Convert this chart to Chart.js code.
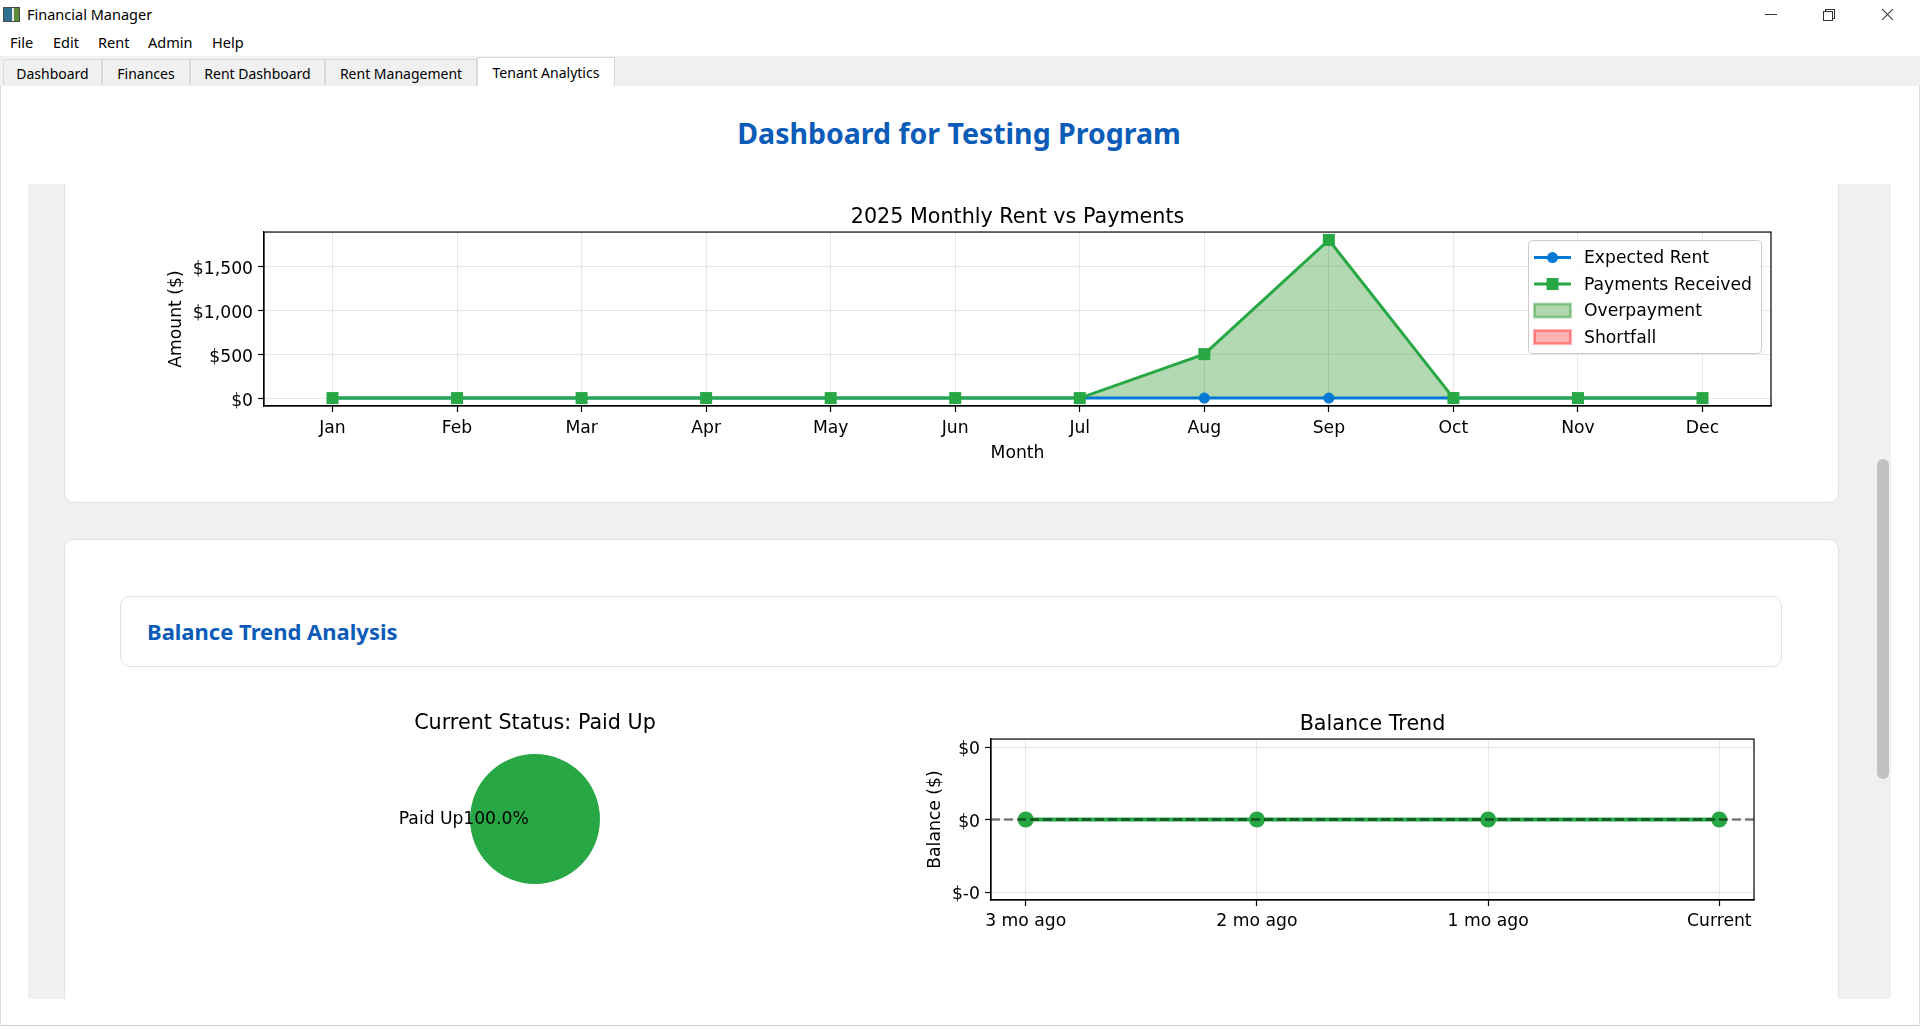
<!DOCTYPE html>
<html>
<head>
<meta charset="utf-8">
<title>Financial Manager</title>
<script src="https://cdn.jsdelivr.net/npm/chart.js@4.4.1/dist/chart.umd.min.js"></script>
<style>
html, body { margin: 0; padding: 0; }
body {
    width: 1920px; height: 1030px; position: relative; overflow: hidden;
    background: #fff; font-family: "Noto Sans", sans-serif; color: #000;
}
.abs { position: absolute; }
#appicon { left: 3px; top: 7px; width: 15px; height: 13px; border: 1px solid #4a4a4a;
    background: linear-gradient(90deg, #2f6f8f 0 55%, #e8e8e8 55% 70%, #5a8a3a 70%); }
#appname { left: 27px; top: 4px; font-size: 14.5px; }
#menubar span { position: absolute; top: 32px; font-size: 14.5px; }
#tabbar { left: 0; top: 56px; width: 1920px; height: 30px; background: #f0f0f0; }
.tab { position: absolute; top: 3px; height: 26px; box-sizing: border-box; border: 1px solid #d9d9d9;
    border-bottom: none; background: #f0f0f0; font-size: 14px; text-align: center; line-height: 28px; }
.tab.sel { top: 1px; height: 30px; background: #fff; line-height: 30px; }
#panel { left: 0; top: 86px; width: 1918px; height: 939px; border-left: 1px solid #dcdcdc;
    border-right: 1px solid #dcdcdc; border-bottom: 1px solid #d0d0d0; background: #fff; }
#heading { left: 0; top: 114px; width: 1918px; text-align: center; font-size: 28.5px; font-weight: bold; color: #0b5cb8; }
#scrollarea { left: 28px; top: 184px; width: 1846px; height: 815px; background: #f0f0f0; overflow: hidden; }
.card { position: absolute; background: #fff; border: 1px solid #e2e2e2; border-radius: 10px; box-sizing: border-box; }
#track { left: 1874px; top: 184px; width: 17px; height: 815px; background: #f0f0f0; }
#thumb { left: 1877px; top: 459px; width: 12px; height: 320px; background: #c2c2c2; border-radius: 6px; }
#sectionbox { left: 120px; top: 596px; width: 1662px; height: 71px; box-sizing: border-box;
    border: 1px solid #e2e2e2; border-radius: 10px; background: #fff; }
#sectiontitle { left: 147px; top: 616px; font-size: 22px; font-weight: bold; color: #0b5cb8; }
canvas { position: absolute; }
</style>
</head>
<body>
<div class="abs" id="appicon"></div>
<div class="abs" id="appname">Financial Manager</div>
<div class="abs" style="left:1765px;top:14px;width:12px;height:1px;background:#333"></div>
<div class="abs" style="left:1825px;top:9px;width:8px;height:8px;border:1px solid #333"></div>
<div class="abs" style="left:1823px;top:11px;width:8px;height:8px;border:1px solid #333;background:#fff"></div>
<div class="abs" style="left:1880px;top:14px;width:15px;height:1px;background:#333;transform:rotate(45deg)"></div>
<div class="abs" style="left:1880px;top:14px;width:15px;height:1px;background:#333;transform:rotate(-45deg)"></div>

<div id="menubar">
    <span style="left:10px">File</span>
    <span style="left:53px">Edit</span>
    <span style="left:98px">Rent</span>
    <span style="left:148px">Admin</span>
    <span style="left:212px">Help</span>
</div>

<div class="abs" id="tabbar">
    <div class="tab" style="left:3px;width:99px">Dashboard</div>
    <div class="tab" style="left:102px;width:88px">Finances</div>
    <div class="tab" style="left:190px;width:135px">Rent Dashboard</div>
    <div class="tab" style="left:325px;width:152px">Rent Management</div>
    <div class="tab sel" style="left:477px;width:138px">Tenant Analytics</div>
</div>

<div class="abs" id="panel"></div>
<div class="abs" id="heading">Dashboard for Testing Program</div>

<div class="abs" id="scrollarea">
    <div class="card" style="left:36px;top:-40px;width:1775px;height:359px"></div>
    <div class="card" style="left:36px;top:355px;width:1775px;height:600px"></div>
</div>
<div class="abs" id="track"></div>
<div class="abs" id="thumb"></div>

<div class="abs" id="sectionbox"></div>
<div class="abs" id="sectiontitle">Balance Trend Analysis</div>

<canvas id="rentChart" width="1660" height="275" style="left:140px;top:196px"></canvas>
<canvas id="statusChart" width="410" height="240" style="left:330px;top:700px"></canvas>
<canvas id="balanceChart" width="880" height="250" style="left:900px;top:700px"></canvas>

<script>
// monthly rent chart
const months = ['Jan', 'Feb', 'Mar', 'Apr', 'May', 'Jun', 'Jul', 'Aug', 'Sep', 'Oct', 'Nov', 'Dec'];
const expectedRent = [0, 0, 0, 0, 0, 0, 0, 0, 0, 0, 0, 0];
const paymentsReceived = [0, 0, 0, 0, 0, 0, 0, 500, 1800, 0, 0, 0];
const amountTicks = [0, 500, 1000, 1500];
const legendLabels = ['Expected Rent', 'Payments Received', 'Overpayment', 'Shortfall'];

// status pie
const statusLabels = ['Paid Up'];
const statusShares = [100];

// balance trend
const balanceLabels = ['3 mo ago', '2 mo ago', '1 mo ago', 'Current'];
const balanceValues = [0, 0, 0, 0];
const balanceTicks = [-0.05, 0, 0.05];

const BLUE = '#0078d4';
const GREEN = '#28a745';
const OVER = 'rgba(0,128,0,0.3)';
const SHORT = 'rgba(255,0,0,0.3)';
const GRID = 'rgba(176,176,176,0.3)';

Chart.defaults.font.family = '"DejaVu Sans"';
Chart.defaults.font.size = 17.2;
Chart.defaults.color = '#000';

// black box round the plot like matplotlib spines
const frame = {
    id: 'frame',
    afterDatasetsDraw(chart) {
        const a = chart.chartArea, c = chart.ctx;
        c.save();
        c.strokeStyle = '#000';
        c.lineWidth = 1.2;
        c.strokeRect(a.left, a.top, a.right - a.left, a.bottom - a.top);
        c.restore();
    }
};

const rentLegend = {
    id: 'rentLegend',
    afterDraw(chart) {
        const a = chart.chartArea, c = chart.ctx;
        const w = 233, h = 113;
        const left = a.right - 10 - w, top = a.top + 8;
        c.save();
        c.fillStyle = 'rgba(255,255,255,0.8)';
        c.strokeStyle = '#cccccc';
        c.lineWidth = 1;
        c.beginPath();
        c.roundRect(left + 0.5, top + 0.5, w, h, 4);
        c.fill();
        c.stroke();
        c.font = '17.2px "DejaVu Sans"';
        c.textBaseline = 'middle';
        legendLabels.forEach((lab, i) => {
            const y = top + 17.5 + i * 26.5;
            const x0 = left + 6, x1 = left + 43;
            if (i < 2) {
                const col = i === 0 ? BLUE : GREEN;
                c.strokeStyle = col;
                c.fillStyle = col;
                c.lineWidth = 3;
                c.beginPath(); c.moveTo(x0, y); c.lineTo(x1, y); c.stroke();
                const mx = (x0 + x1) / 2;
                if (i === 0) { c.beginPath(); c.arc(mx, y, 5.5, 0, Math.PI * 2); c.fill(); }
                else c.fillRect(mx - 6, y - 6, 12, 12);
            } else {
                c.fillStyle = i === 2 ? OVER : SHORT;
                c.strokeStyle = i === 2 ? 'rgba(0,128,0,0.3)' : 'rgba(255,0,0,0.3)';
                c.fillRect(x0, y - 7, x1 - x0, 14);
                c.strokeRect(x0 + 0.5, y - 6.5, x1 - x0 - 1, 13);
            }
            c.fillStyle = '#000';
            c.fillText(lab, left + 56, y + 1);
        });
        c.restore();
    }
};

new Chart(document.getElementById('rentChart'), {
    type: 'line',
    data: {
        datasets: [{
            label: 'Payments Received',
            data: paymentsReceived.map((v, i) => ({ x: i, y: v })),
            borderColor: GREEN,
            backgroundColor: GREEN,
            borderWidth: 3,
            pointStyle: 'rect',
            pointRadius: 8.5,
            pointBorderWidth: 0,
            fill: { target: 1, above: OVER, below: SHORT }
        }, {
            label: 'Expected Rent',
            data: expectedRent.map((v, i) => ({ x: i, y: v })),
            borderColor: BLUE,
            backgroundColor: BLUE,
            borderWidth: 3,
            pointStyle: 'circle',
            pointRadius: 5.5,
            pointBorderWidth: 0,
            fill: false
        }]
    },
    options: {
        responsive: false,
        animation: false,
        devicePixelRatio: 1,
        layout: { padding: { left: 0, right: 29, top: 0, bottom: 0 } },
        plugins: {
            legend: { display: false },
            tooltip: { enabled: false },
            filler: { drawTime: 'beforeDatasetsDraw' },
            title: {
                display: true,
                fullSize: false,
                text: '2025 Monthly Rent vs Payments',
                font: { size: 20.7, weight: 'normal' },
                padding: { top: 9.3, bottom: 1.9 }
            }
        },
        scales: {
            x: {
                type: 'linear',
                min: -0.55,
                max: 11.55,
                afterBuildTicks: ax => { ax.ticks = months.map((m, i) => ({ value: i })); },
                afterFit: ax => { ax.height = 65; },
                ticks: { callback: v => months[v], padding: 6.5, maxRotation: 0, autoSkip: false },
                grid: { color: GRID, tickColor: '#000', tickLength: 6, tickWidth: 1.2 },
                border: { color: '#000', width: 1.2 },
                title: { display: true, text: 'Month', padding: { top: 0, bottom: 7.3 } }
            },
            y: {
                type: 'linear',
                min: -90,
                max: 1890,
                afterBuildTicks: ax => { ax.ticks = amountTicks.map(v => ({ value: v })); },
                afterFit: ax => { ax.width = 124; },
                ticks: { callback: v => '$' + v.toLocaleString('en-US'), padding: 5, labelOffset: 3 },
                grid: { color: GRID, tickColor: '#000', tickLength: 6, tickWidth: 1.2 },
                border: { color: '#000', width: 1.2 },
                title: { display: true, text: 'Amount ($)', padding: { top: 26, bottom: 0 } }
            }
        }
    },
    plugins: [frame, rentLegend]
});

// labels beside the pie, like matplotlib's autopct
const pieLabels = {
    id: 'pieLabels',
    afterDatasetsDraw(chart) {
        const c = chart.ctx;
        const total = statusShares.reduce((s, v) => s + v, 0);
        c.save();
        c.font = '17.2px "DejaVu Sans"';
        c.fillStyle = '#000';
        c.textBaseline = 'middle';
        chart.getDatasetMeta(0).data.forEach((arc, i) => {
            const mid = (arc.startAngle + arc.endAngle) / 2;
            const r = arc.outerRadius;
            c.textAlign = Math.cos(mid) < 0 ? 'right' : 'left';
            c.fillText(statusLabels[i], arc.x + Math.cos(mid) * 1.1 * r, arc.y + Math.sin(mid) * 1.1 * r + 1);
            c.textAlign = 'center';
            c.fillText((statusShares[i] / total * 100).toFixed(1) + '%',
                arc.x + Math.cos(mid) * 0.6 * r, arc.y + Math.sin(mid) * 0.6 * r + 1);
        });
        c.restore();
    }
};

new Chart(document.getElementById('statusChart'), {
    type: 'pie',
    data: {
        labels: statusLabels,
        datasets: [{ data: statusShares, backgroundColor: [GREEN], borderWidth: 0 }]
    },
    options: {
        responsive: false,
        animation: false,
        devicePixelRatio: 1,
        rotation: 90,
        layout: { padding: { bottom: 56 } },
        plugins: {
            legend: { display: false },
            tooltip: { enabled: false },
            title: {
                display: true,
                text: 'Current Status: Paid Up',
                font: { size: 20.7, weight: 'normal' },
                padding: { top: 11.1, bottom: 18.1 }
            }
        }
    },
    plugins: [pieLabels]
});

// dashed reference line at zero balance
const zeroLine = {
    id: 'zeroLine',
    afterDatasetsDraw(chart) {
        const a = chart.chartArea, c = chart.ctx;
        const y = chart.scales.y.getPixelForValue(0);
        c.save();
        c.setLineDash([9, 4]);
        c.strokeStyle = 'rgba(0,0,0,0.5)';
        c.lineWidth = 2.5;
        c.beginPath(); c.moveTo(a.left, y); c.lineTo(a.right, y); c.stroke();
        c.restore();
    }
};

new Chart(document.getElementById('balanceChart'), {
    type: 'line',
    data: {
        datasets: [{
            label: 'Balance',
            data: balanceValues.map((v, i) => ({ x: i, y: v })),
            borderColor: GREEN,
            backgroundColor: GREEN,
            borderWidth: 4,
            pointRadius: 8,
            pointBorderWidth: 0,
            fill: false
        }]
    },
    options: {
        responsive: false,
        animation: false,
        devicePixelRatio: 1,
        layout: { padding: { left: 0, right: 26, top: 0, bottom: 0 } },
        plugins: {
            legend: { display: false },
            tooltip: { enabled: false },
            title: {
                display: true,
                fullSize: false,
                text: 'Balance Trend',
                font: { size: 20.7, weight: 'normal' },
                padding: { top: 12.1, bottom: 2.1 }
            }
        },
        scales: {
            x: {
                type: 'linear',
                min: -0.15,
                max: 3.15,
                afterBuildTicks: ax => { ax.ticks = balanceLabels.map((l, i) => ({ value: i })); },
                afterFit: ax => { ax.height = 50; },
                ticks: { callback: v => balanceLabels[v], padding: 5.5, maxRotation: 0, autoSkip: false },
                grid: { color: GRID, tickColor: '#000', tickLength: 6, tickWidth: 1.2 },
                border: { color: '#000', width: 1.2 }
            },
            y: {
                type: 'linear',
                min: -0.0555,
                max: 0.0555,
                afterBuildTicks: ax => { ax.ticks = balanceTicks.map(v => ({ value: v })); },
                afterFit: ax => { ax.width = 91; },
                ticks: {
                    callback: v => '$' + v.toLocaleString('en-US', { maximumFractionDigits: 0 }),
                    padding: 5,
                    labelOffset: 3
                },
                grid: { color: GRID, tickColor: '#000', tickLength: 6, tickWidth: 1.2 },
                border: { color: '#000', width: 1.2 },
                title: { display: true, text: 'Balance ($)', padding: { top: 25.7, bottom: 0 } }
            }
        }
    },
    plugins: [zeroLine, frame]
});
</script>
</body>
</html>
